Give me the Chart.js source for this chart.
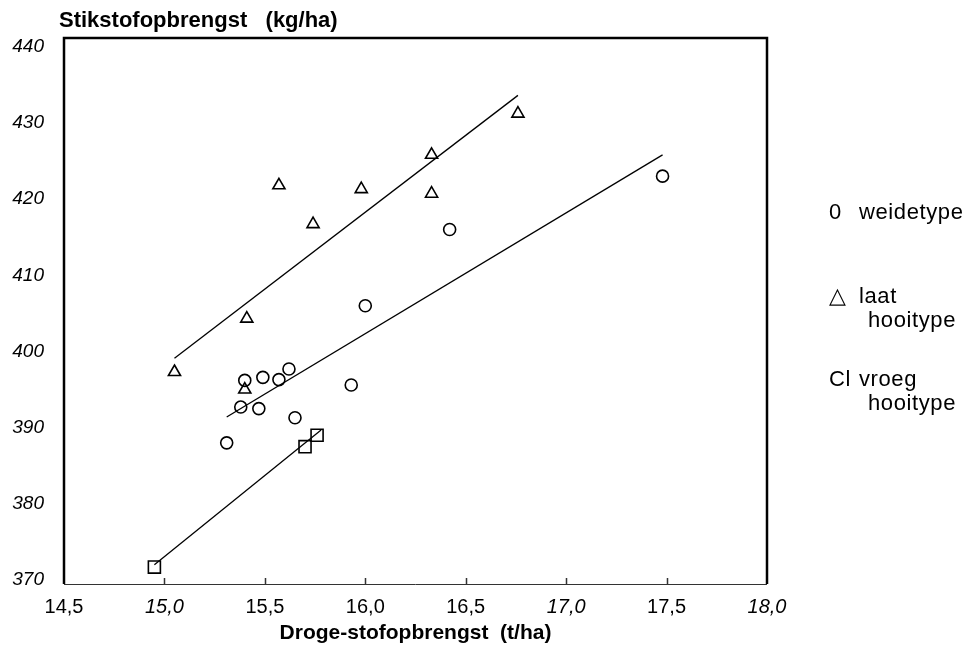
<!DOCTYPE html>
<html>
<head>
<meta charset="utf-8">
<script src="https://cdn.jsdelivr.net/npm/chart.js@4.4.1/dist/chart.umd.min.js"></script>
<style>
    html, body { margin: 0; padding: 0; background: #fff; }
</style>
</head>
<body>
<canvas id="chart_one" width="974" height="650"></canvas>
<script>
// weidetype (circles)
let weideX = [15.31, 15.38, 15.40, 15.47, 15.49, 15.57, 15.62, 15.65, 15.93, 16.00, 16.42, 17.48];
let weideY = [388.0, 392.7, 396.2, 392.5, 396.6, 396.3, 397.7, 391.3, 395.6, 406.0, 416.0, 423.0];

// laat hooitype (triangles)
let laatX = [15.05, 15.40, 15.41, 15.57, 15.74, 15.98, 16.33, 16.33, 16.76];
let laatY = [397.3, 395.0, 404.3, 421.8, 416.7, 421.3, 425.8, 420.7, 431.2];

// vroeg hooitype (squares)
let vroegX = [14.95, 15.70, 15.76];
let vroegY = [371.7, 387.5, 389.0];

// regression lines (start, end)
let laatLineX = [15.05, 16.76];
let laatLineY = [399.1, 433.6];
let weideLineX = [15.31, 17.48];
let weideLineY = [391.4, 425.8];
let vroegLineX = [14.95, 15.78];
let vroegLineY = [372.0, 389.7];

let xTicks = [14.5, 15.0, 15.5, 16.0, 16.5, 17.0, 17.5, 18.0];
let xTickLabels = ["14,5", "15,0", "15,5", "16,0", "16,5", "17,0", "17,5", "18,0"];
let xItalic = [15.0, 17.0, 18.0];
let yTicks = [370, 380, 390, 400, 410, 420, 430, 440];

let yTitle = "Stikstofopbrengst   (kg/ha)";
let xTitle = "Droge-stofopbrengst  (t/ha)";
let legendRows = [
    ["0", "weidetype", ""],
    ["\u25B3", "laat", "hooitype"],
    ["Cl", "vroeg", "hooitype"]
];

function pts(xs, ys) {
    return xs.map((x, i) => ({ x: x, y: ys[i] }));
}

const fontFam = '"Liberation Sans", Arial, sans-serif';

// frame, inner ticks, top title and the side legend
const extras = {
    id: "extras",
    afterDraw(chart) {
        const ctx = chart.ctx;
        const a = chart.chartArea;
        const xs = chart.scales.x;
        ctx.save();
        ctx.strokeStyle = "#000";
        ctx.lineWidth = 2.5;
        ctx.beginPath();
        ctx.moveTo(a.left, a.bottom);
        ctx.lineTo(a.left, a.top);
        ctx.lineTo(a.right, a.top);
        ctx.lineTo(a.right, a.bottom);
        ctx.stroke();

        ctx.strokeStyle = "#333";
        ctx.lineWidth = 1;
        ctx.beginPath();
        ctx.moveTo(a.left, a.bottom + 0.5);
        ctx.lineTo(a.right, a.bottom + 0.5);
        ctx.stroke();

        ctx.lineWidth = 1.5;
        ctx.beginPath();
        for (let t of xTicks.slice(1, -1)) {
            let px = Math.round(xs.getPixelForValue(t)) + 0.5;
            ctx.moveTo(px, a.bottom);
            ctx.lineTo(px, a.bottom - 6);
        }
        ctx.stroke();

        ctx.fillStyle = "#000";
        ctx.textBaseline = "middle";
        ctx.font = "bold 22px " + fontFam;
        ctx.fillText(yTitle, 59, 21);

        ctx.font = "22px " + fontFam;
        ctx.letterSpacing = "0.6px";
        let rowY = [213, 297, 380];
        legendRows.forEach((r, i) => {
            ctx.fillText(r[0], 829, rowY[i]);
            ctx.fillText(r[1], 859, rowY[i]);
            if (r[2]) ctx.fillText(r[2], 868, rowY[i] + 24);
        });
        ctx.restore();
    }
};

const markerBase = {
    borderColor: "#000",
    backgroundColor: "rgba(0,0,0,0)",
    borderWidth: 1.6,
    showLine: false
};
const lineBase = {
    borderColor: "#000",
    borderWidth: 1.3,
    pointRadius: 0,
    showLine: true,
    fill: false
};

var ChartOne = new Chart("chart_one", {
    type: "scatter",
    data: {
        datasets: [
            Object.assign({ label: "weidetype", data: pts(weideX, weideY), pointStyle: "circle", pointRadius: 6 }, markerBase),
            Object.assign({ label: "laat hooitype", data: pts(laatX, laatY), pointStyle: "triangle", pointRadius: 7 }, markerBase),
            Object.assign({ label: "vroeg hooitype", data: pts(vroegX, vroegY), pointStyle: "rect", pointRadius: 8.5 }, markerBase),
            Object.assign({ label: "laat lijn", data: pts(laatLineX, laatLineY) }, lineBase),
            Object.assign({ label: "weide lijn", data: pts(weideLineX, weideLineY) }, lineBase),
            Object.assign({ label: "vroeg lijn", data: pts(vroegLineX, vroegLineY) }, lineBase)
        ]
    },
    options: {
        responsive: false,
        animation: false,
        devicePixelRatio: 1,
        layout: { padding: { left: 0, right: 207, top: 38, bottom: 0 } },
        plugins: {
            legend: { display: false },
            tooltip: { enabled: false }
        },
        scales: {
            x: {
                min: 14.5,
                max: 18.0,
                afterBuildTicks: s => { s.ticks = xTicks.map(v => ({ value: v })); },
                afterFit: s => { s.height = 66; },
                grid: { display: false, drawTicks: false },
                border: { display: false },
                ticks: {
                    color: "#000",
                    padding: 11,
                    maxRotation: 0,
                    autoSkip: false,
                    callback: (v, i) => xTickLabels[i],
                    font: c => ({
                        family: fontFam,
                        size: 20,
                        style: c.tick && xItalic.includes(c.tick.value) ? "italic" : "normal"
                    })
                },
                title: {
                    display: true,
                    text: xTitle,
                    color: "#000",
                    font: { family: fontFam, size: 21, weight: "bold" },
                    padding: { top: 0, bottom: 4 }
                }
            },
            y: {
                min: 369.48,
                max: 441.13,
                afterBuildTicks: s => { s.ticks = yTicks.map(v => ({ value: v })); },
                afterFit: s => { s.width = 64; },
                grid: { display: false, drawTicks: false },
                border: { display: false },
                ticks: {
                    color: "#000",
                    padding: 20,
                    font: { family: fontFam, size: 19, style: "italic" }
                }
            }
        }
    },
    plugins: [extras]
});
</script>
</body>
</html>
